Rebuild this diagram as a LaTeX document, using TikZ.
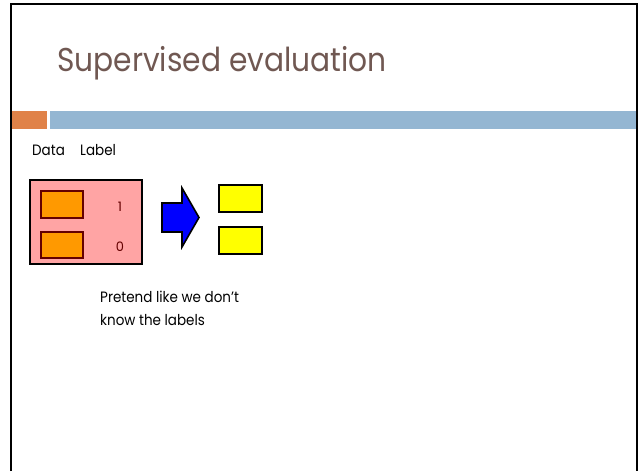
\documentclass[tikz,border=0pt]{standalone}
\usepackage{fontspec}
\setmainfont{Poppins}
\newfontfamily\slidefont[FakeStretch=0.9]{Poppins}
\usetikzlibrary{positioning}
\definecolor{titlebrown}{RGB}{112,88,82}
\definecolor{accentorange}{RGB}{224,130,72}
\definecolor{accentblue}{RGB}{148,182,210}
\definecolor{tablepink}{RGB}{255,164,164}
\definecolor{dataorange}{RGB}{255,153,0}
\definecolor{darkred}{RGB}{100,0,0}
\definecolor{predyellow}{RGB}{255,255,0}
\definecolor{arrowblue}{RGB}{0,0,255}

\begin{document}
\begin{tikzpicture}[x=1pt,y=-1pt]
\tikzstyle{every node}+=[inner sep=0pt]
\tikzstyle{databox}=[draw=darkred,fill=dataorange,line width=1.6pt,minimum width=42pt,minimum height=27pt]
\tikzstyle{predbox}=[draw=black,fill=predyellow,line width=1.6pt,minimum width=43pt,minimum height=27pt]
\tikzstyle{body}=[font=\slidefont\fontsize{15}{20}\selectfont,anchor=base west]
\useasboundingbox (0,0) rectangle (642,471);
% slide frame and header
\draw [black,line width=2.5pt] (11,471) -- (11,4) -- (637,4) -- (637,471);
\fill [accentorange] (12,111) rectangle (47,129);
\fill [accentblue] (50,111) rectangle (635.5,129);
\node (title) [anchor=base west,text=titlebrown,font=\slidefont\fontsize{33}{36}\selectfont] at (57,71) {Supervised evaluation};
% column heads
\node (data) [body] at (32,155) {Data};
\node (label) [body] at (80,155) {Label};
% labelled table
\node (table) [draw=black,fill=tablepink,line width=1.8pt,minimum width=112pt,minimum height=84pt] at (86,222) {};
\node (row1) [databox] at (62,204.5) {};
\node (row2) [databox,minimum height=26pt] at (62,245) {};
\node (lab1) [text=darkred,font=\fontsize{13}{13}\selectfont] at (120,207) {1};
\node (lab0) [text=darkred,font=\fontsize{13}{13}\selectfont] at (120,247) {0};
% arrow
\draw [black,fill=arrowblue,line width=1.6pt,line join=miter] (162,203) -- (182,203) -- (182,188) -- (199,217.5) -- (182,247) -- (182,232) -- (162,232) -- cycle;
% predictions
\node (pred1) [predbox] at (240.5,198.5) {};
\node (pred2) [predbox] at (240.5,240.5) {};
% note
\node (note1) [body] at (100,302) {Pretend like we don’t};
\node (note2) [body] at (100,325) {know the labels};
\end{tikzpicture}
\end{document}
